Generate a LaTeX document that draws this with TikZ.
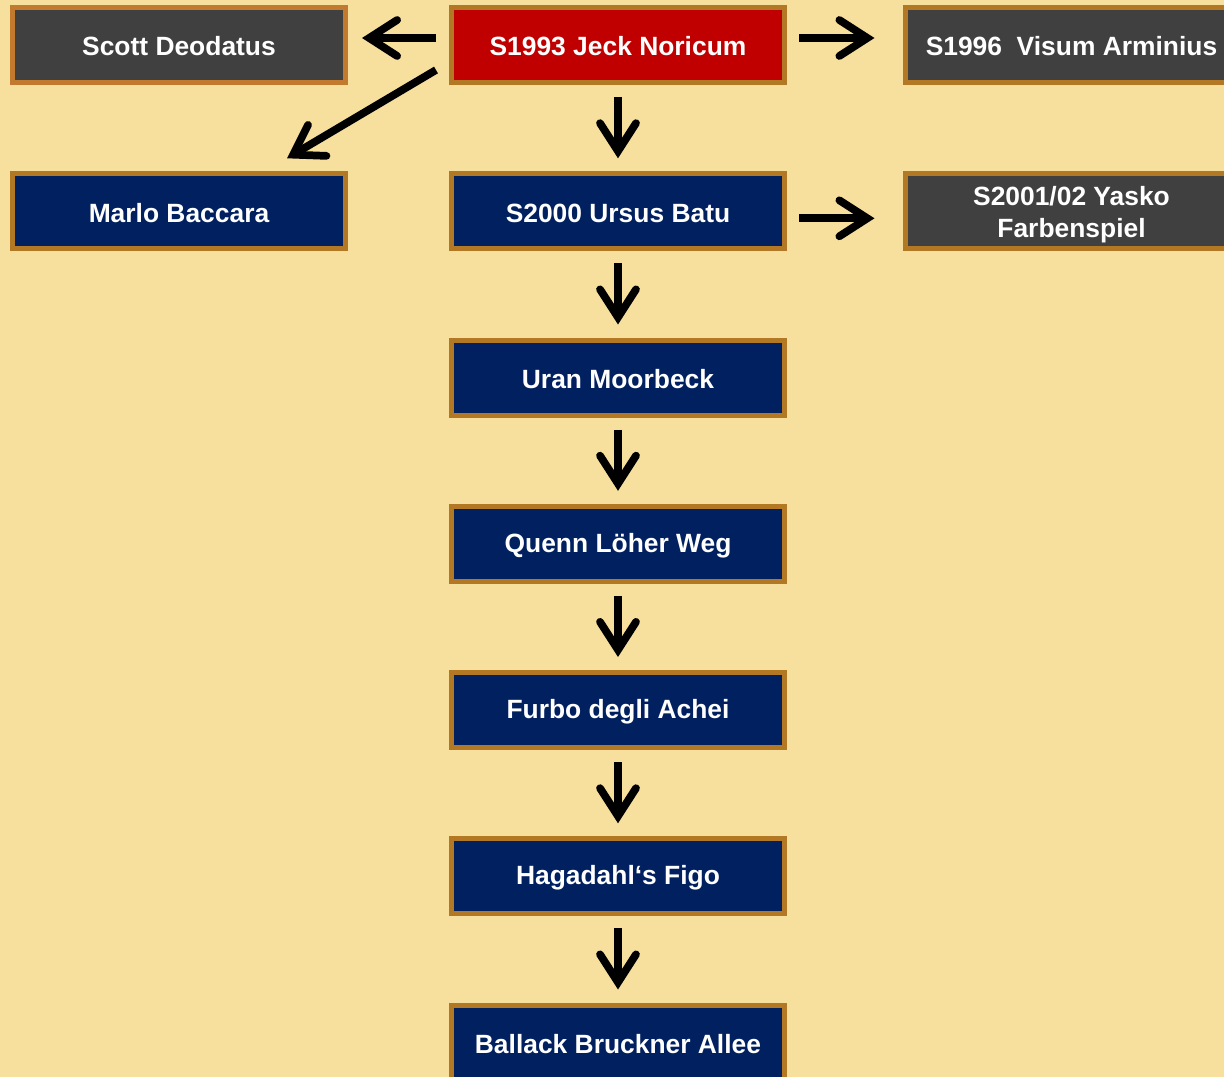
\documentclass[tikz,border=0pt]{standalone}
\usepackage{fontspec}
\setmainfont{Liberation Sans}
\usetikzlibrary{arrows.meta,calc}
\definecolor{paper}{RGB}{247,224,157}
\definecolor{navy}{RGB}{0,32,96}
\definecolor{slate}{RGB}{64,64,64}
\definecolor{crimson}{RGB}{192,0,0}
\definecolor{rim}{RGB}{178,120,36}
\definecolor{rimlight}{RGB}{194,122,46}
\tikzset{
  horse/.style={draw=rim, line width=3.75pt, minimum width=249.75pt, minimum height=56.25pt,
    inner sep=0pt, text=white, align=center,
    font=\fontsize{19.8}{24}\selectfont\bfseries,
    execute at begin node={\rule{0pt}{16.6pt}}},
  navybox/.style={horse, fill=navy},
  slatebox/.style={horse, fill=slate},
  redbox/.style={horse, fill=crimson},
  arr/.style={draw=black, line width=5.8pt,
    -{Straight Barb[length=21pt, width=27pt, line cap=round, line join=miter]}},
}
\begin{document}
\begin{tikzpicture}[x=0.75pt,y=-0.75pt]
  \fill[paper] (0,0) rectangle (1224,1077);
  \useasboundingbox (0,0) rectangle (1224,1077);

  % top row
  \node[slatebox, draw=rimlight] (scott) at (179,45) {Scott Deodatus};
  \node[redbox] (jeck) at (618,45) {S1993 Jeck Noricum};
  \node[slatebox] (visum) at (1071.5,45) {S1996\ \ Visum Arminius};

  % second row
  \node[navybox] (marlo) at (179,211.3) {Marlo Baccara};
  \node[navybox] (ursus) at (618,211.3) {S2000 Ursus Batu};
  \node[slatebox, execute at begin node={}] (yasko) at (1071.5,211.3)
    {\rule{0pt}{19.5pt}S2001/02 Yasko\\Farbenspiel};

  % main line
  \node[navybox] (uran)    at (618,377.5)  {Uran Moorbeck};
  \node[navybox] (quenn)   at (618,543.8)  {Quenn Löher Weg};
  \node[navybox] (furbo)   at (618,710)    {Furbo degli Achei};
  \node[navybox] (haga)    at (618,876.3)  {Hagadahl‘s Figo};
  \node[navybox] (ballack) at (618,1042.5) {Ballack Bruckner Allee};

  % side arrows
  \draw[arr, shorten <=9.75pt, shorten >=10.5pt]
    ([yshift=5.25pt]jeck.west) -- ([yshift=5.25pt]scott.east);
  \draw[arr, shorten <=9pt, shorten >=21pt]
    ([yshift=5.25pt]jeck.east) -- ([yshift=5.25pt]visum.west);
  \draw[arr, shorten <=9pt, shorten >=21pt]
    ([yshift=-5.25pt]ursus.east) -- ([yshift=-5.25pt]yasko.west);
  \draw[arr] ([shift={(-13,25)}]jeck.west) -- ([shift={(108,-13)}]marlo.north);

  % descending line
  \foreach \a/\b in {jeck/ursus, ursus/uran, uran/quenn, quenn/furbo, furbo/haga, haga/ballack}
    \draw[arr, shorten <=9pt, shorten >=9.75pt] (\a.south) -- (\b.north);
\end{tikzpicture}
\end{document}
